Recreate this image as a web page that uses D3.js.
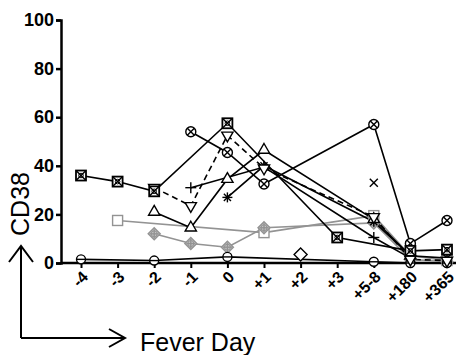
<!DOCTYPE html>
<html>
<head>
<meta charset="utf-8">
<script src="https://cdn.jsdelivr.net/npm/d3@7"></script>
<style>
  body { margin: 0; background: #fff; }
  svg { display: block; font-family: "Liberation Sans", Arial, sans-serif; }
  .tick-label { font-family: "Liberation Sans", Arial, sans-serif; font-weight: 700; fill: #000; }
</style>
</head>
<body>
<svg id="chart" width="457" height="355"></svg>
<script>
// categories (fever day)
const days = ["-4", "-3", "-2", "-1", "0", "+1", "+2", "+3", "+5-8", "+180", "+365"];
const yTicks = [0, 20, 40, 60, 80, 100];

// one array per patient, null = not measured
const boxX        = [36, 33.5, 29.5, null, 57.5, null, null, 10.5, null, 5, 5.5];
const triDown     = [null, null, 31, 23.5, 52.5, 39, null, null, 19, 1.5, 1];
const circleX     = [null, null, null, 54, 45.5, 32.5, null, null, 57, 8, 17.5];
const triUp       = [null, null, 21, 14.5, 34.5, 46.5, null, null, 18, 3, null];
const plusS       = [null, null, null, 31, null, 39.5, null, null, 10.5, 2, null];
const asterisk    = [null, null, null, null, 27, 40, null, null, 17, 3, 2];
const crossS      = [null, null, null, null, null, null, null, null, 33, null, null];
const graySquare  = [null, 17.5, null, null, null, 12.5, null, null, 19.5, 3, 1];
const grayDiamond = [null, null, 12, 8, 6.5, 14.5, null, null, 16.5, 1.5, 0.5];
const circleMinus = [1.5, null, 1, null, 2.5, null, null, null, 0.5, 0, 0];
const diamondS    = [null, null, null, null, null, null, 3.5, null, null, null, null];

const series = [
  { values: graySquare,  marker: "square",      color: "#939393", dash: null },
  { values: grayDiamond, marker: "diamondPlus", color: "#939393", dash: null },
  { values: circleMinus, marker: "circleMinus", color: "#000", dash: null },
  { values: diamondS,    marker: "diamond",     color: "#000", dash: null },
  { values: plusS,       marker: "plus",        color: "#000", dash: null },
  { values: asterisk,    marker: "asterisk",    color: "#000", dash: null },
  { values: triUp,       marker: "triUp",       color: "#000", dash: null },
  { values: triDown,     marker: "triDown",     color: "#000", dash: "6,4" },
  { values: circleX,     marker: "circleX",     color: "#000", dash: null },
  { values: boxX,        marker: "boxX",        color: "#000", dash: null },
  { values: crossS,      marker: "cross",       color: "#000", dash: null }
];

const svg = d3.select("#chart");

const x = d3.scalePoint().domain(days).range([81, 447]);
const y = d3.scaleLinear().domain([0, 100]).range([263, 20]);

/* ---- axes ---- */
const yAxis = svg.append("g")
  .attr("transform", "translate(61,0)")
  .call(d3.axisLeft(y).tickValues(yTicks).tickSize(5).tickPadding(2));
yAxis.attr("font-family", null);
yAxis.select(".domain").attr("stroke-width", 2.5);
yAxis.selectAll(".tick line").attr("stroke-width", 2.5);
yAxis.selectAll("text")
  .attr("class", "tick-label")
  .style("font-size", "18px");

const xAxis = svg.append("g")
  .attr("transform", "translate(0,263)")
  .call(d3.axisBottom(x).tickSize(5).tickSizeOuter(0).tickFormat(""));
xAxis.select(".domain").attr("d", "M61,0H456").attr("stroke-width", 2.5);
xAxis.selectAll(".tick line").attr("stroke-width", 2);

svg.append("g").selectAll("text")
  .data(days)
  .enter()
  .append("text")
  .attr("class", "tick-label")
  .attr("transform", d => `translate(${x(d) + 4},${274}) rotate(-45)`)
  .attr("text-anchor", "end")
  .attr("dy", "0.35em")
  .style("font-size", "16px")
  .text(d => d);

/* ---- lines ---- */
const line = d3.line().x(d => x(d.day)).y(d => y(d.v));
const plot = svg.append("g");

series.forEach(s => {
  const pts = days.map((day, i) => ({ day, v: s.values[i] })).filter(p => p.v != null);
  if (pts.length > 1) {
    plot.append("path")
      .attr("d", line(pts))
      .attr("fill", "none")
      .attr("stroke", s.color)
      .attr("stroke-width", 1.6)
      .attr("stroke-dasharray", s.dash);
  }
});

/* ---- markers ---- */
function drawMarker(g, type, c) {
  const sw = 1.4;
  const ln = (x1, y1, x2, y2) => g.append("line")
    .attr("x1", x1).attr("y1", y1).attr("x2", x2).attr("y2", y2)
    .attr("stroke", c).attr("stroke-width", sw);
  if (type === "boxX") {
    g.append("rect").attr("x", -5).attr("y", -5).attr("width", 10).attr("height", 10)
      .attr("fill", "#fff").attr("stroke", c).attr("stroke-width", 1.8);
    ln(-4.5, -4.5, 4.5, 4.5); ln(-4.5, 4.5, 4.5, -4.5);
    g.append("circle").attr("r", 2.3).attr("fill", "none").attr("stroke", c).attr("stroke-width", 1);
  } else if (type === "circleX") {
    g.append("circle").attr("r", 5).attr("fill", "#fff").attr("stroke", c).attr("stroke-width", sw);
    ln(-3.5, -3.5, 3.5, 3.5); ln(-3.5, 3.5, 3.5, -3.5);
  } else if (type === "triUp" || type === "triDown") {
    g.append("path").attr("d", d3.symbol(d3.symbolTriangle, 55)())
      .attr("transform", type === "triDown" ? "rotate(180)" : null)
      .attr("fill", "#fff").attr("stroke", c).attr("stroke-width", sw);
  } else if (type === "plus") {
    ln(-5.5, 0, 5.5, 0); ln(0, -5.5, 0, 5.5);
  } else if (type === "cross") {
    ln(-4, -4, 4, 4); ln(-4, 4, 4, -4);
  } else if (type === "asterisk") {
    for (let a = 0; a < 4; a++) {
      const r = 5, t = a * Math.PI / 4;
      ln(-r * Math.cos(t), -r * Math.sin(t), r * Math.cos(t), r * Math.sin(t));
    }
  } else if (type === "square") {
    g.append("rect").attr("x", -5).attr("y", -5).attr("width", 10).attr("height", 10)
      .attr("fill", "#fff").attr("stroke", c).attr("stroke-width", sw);
  } else if (type === "diamondPlus") {
    g.append("path").attr("d", "M0,-6L6,0L0,6L-6,0Z")
      .attr("fill", "#c4c4c4").attr("stroke", c).attr("stroke-width", sw);
    g.append("circle").attr("r", 3).attr("fill", "none").attr("stroke", c).attr("stroke-width", 1);
    ln(-4.5, 0, 4.5, 0); ln(0, -4.5, 0, 4.5);
  } else if (type === "diamond") {
    g.append("path").attr("d", "M0,-6.5L6.5,0L0,6.5L-6.5,0Z")
      .attr("fill", "#fff").attr("stroke", c).attr("stroke-width", sw);
  } else if (type === "circleMinus") {
    g.append("circle").attr("r", 4.5).attr("fill", "#fff").attr("stroke", c).attr("stroke-width", sw);
    ln(-4.5, 0, 4.5, 0);
  }
}

series.forEach(s => {
  days.forEach((day, i) => {
    const v = s.values[i];
    if (v == null) return;
    const g = plot.append("g").attr("transform", `translate(${x(day)},${y(v)})`);
    drawMarker(g, s.marker, s.color);
  });
});

/* ---- axis titles with arrows ---- */
const arrows = svg.append("g").attr("stroke", "#000").attr("stroke-width", 2).attr("fill", "none");
arrows.append("path").attr("d", "M21,338V246M9,262L21,246L33,262");
arrows.append("path").attr("d", "M21,338H125M109,329L125,338L109,347");

svg.append("text")
  .attr("transform", "translate(29,204) rotate(-90)")
  .attr("text-anchor", "middle")
  .attr("font-size", 25)
  .text("CD38");

svg.append("text")
  .attr("x", 140).attr("y", 351)
  .attr("font-size", 25)
  .text("Fever Day");
</script>
</body>
</html>
